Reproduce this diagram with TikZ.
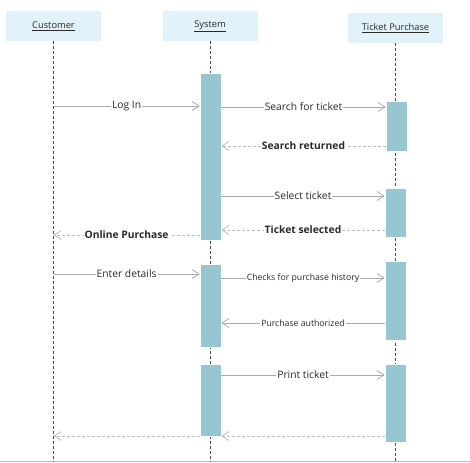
\documentclass[tikz,border=0pt]{standalone}
\usepackage{fontspec}
\setmainfont{Open Sans}
\usepackage{xcolor}
\usetikzlibrary{arrows.meta}
\definecolor{headfill}{HTML}{E1F2FA}
\definecolor{actfill}{HTML}{96C6D0}
\definecolor{msgline}{HTML}{ABABAB}
\definecolor{txt}{HTML}{2A2A2A}

\begin{document}
\begin{tikzpicture}[x=1pt,y=-1pt,>={Straight Barb[length=7pt,width=9pt]},
 head/.style={fill=headfill,minimum width=95pt,minimum height=30pt,inner sep=0pt,font=\fontsize{9.3}{11}\selectfont,text=txt},
 act/.style={fill=actfill,draw=white,line width=0.6pt,minimum width=21pt,inner sep=0pt,anchor=north},
 life/.style={draw=black!70,dashed,dash pattern=on 3pt off 2pt,line width=0.8pt},
 msg/.style={->,draw=msgline,line width=0.8pt},
 ret/.style={msg,dashed,dash pattern=on 3pt off 2pt,draw=msgline!80},
 lbl/.style={fill=white,inner sep=1pt,text=txt,font=\fontsize{10.3}{12}\selectfont},
 blbl/.style={lbl,font=\fontsize{10.3}{12}\selectfont\bfseries},
 slbl/.style={lbl,font=\fontsize{8.7}{10}\selectfont}]
 \useasboundingbox (0,0) rectangle (470,462);
 \draw[black!25,line width=1pt] (0,461.5) -- (470,461.5);

 \node[head] (cust) at (53.5,26) {\underline{Customer}};
 \node[head] (sys) at (210,26) {\underline{System}};
 \node[head] (tick) at (395.5,28) {\underline{Ticket Purchase}};

 \draw[life] (cust.south) -- (cust.south |- 0,462);
 \draw[life] (sys.south) -- (sys.south |- 0,462);
 \draw[life] (tick.south) -- (tick.south |- 0,462);

 \node[act,minimum height=167pt] (s1) at (210.5,73) {};
 \node[act,minimum height=83pt] (s2) at (210.5,264) {};
 \node[act,minimum height=72pt] (s3) at (210.5,364) {};
 \node[act,minimum height=50pt] (t1) at (396.5,101) {};
 \node[act,minimum height=49pt] (t2) at (395.5,188) {};
 \node[act,minimum height=79pt] (t3) at (395.5,261) {};
 \node[act,minimum height=78pt] (t4) at (395.5,364) {};

 \draw[msg] (cust.south |- 0,106) -- node[lbl] {Log In} (s1.west |- 0,106);
 \draw[msg] (s1.east |- 0,107) -- node[lbl] {Search for ticket} (t1.west |- 0,107);
 \draw[ret] (t1.west |- 0,146) -- node[blbl] {Search returned} (s1.east |- 0,146);
 \draw[msg] (s1.east |- 0,196) -- node[lbl] {Select ticket} (t2.west |- 0,196);
 \draw[ret] (t2.west |- 0,230) -- node[blbl] {Ticket selected} (s1.east |- 0,230);
 \draw[ret] (s1.west |- 0,235) -- node[blbl] {Online Purchase} (cust.south |- 0,235);
 \draw[msg] (cust.south |- 0,274) -- node[lbl] {Enter details} (s2.west |- 0,274);
 \draw[msg] (s2.east |- 0,278) -- node[slbl] {Checks for purchase history} (t3.west |- 0,278);
 \draw[msg] (t3.west |- 0,323) -- node[slbl] {Purchase authorized} (s2.east |- 0,323);
 \draw[msg] (s3.east |- 0,375) -- node[lbl] {Print ticket} (t4.west |- 0,375);
 \draw[ret] (t4.west |- 0,436) -- (s3.east |- 0,436);
 \draw[ret] (s3.west |- 0,436) -- (cust.south |- 0,436);
\end{tikzpicture}
\end{document}
